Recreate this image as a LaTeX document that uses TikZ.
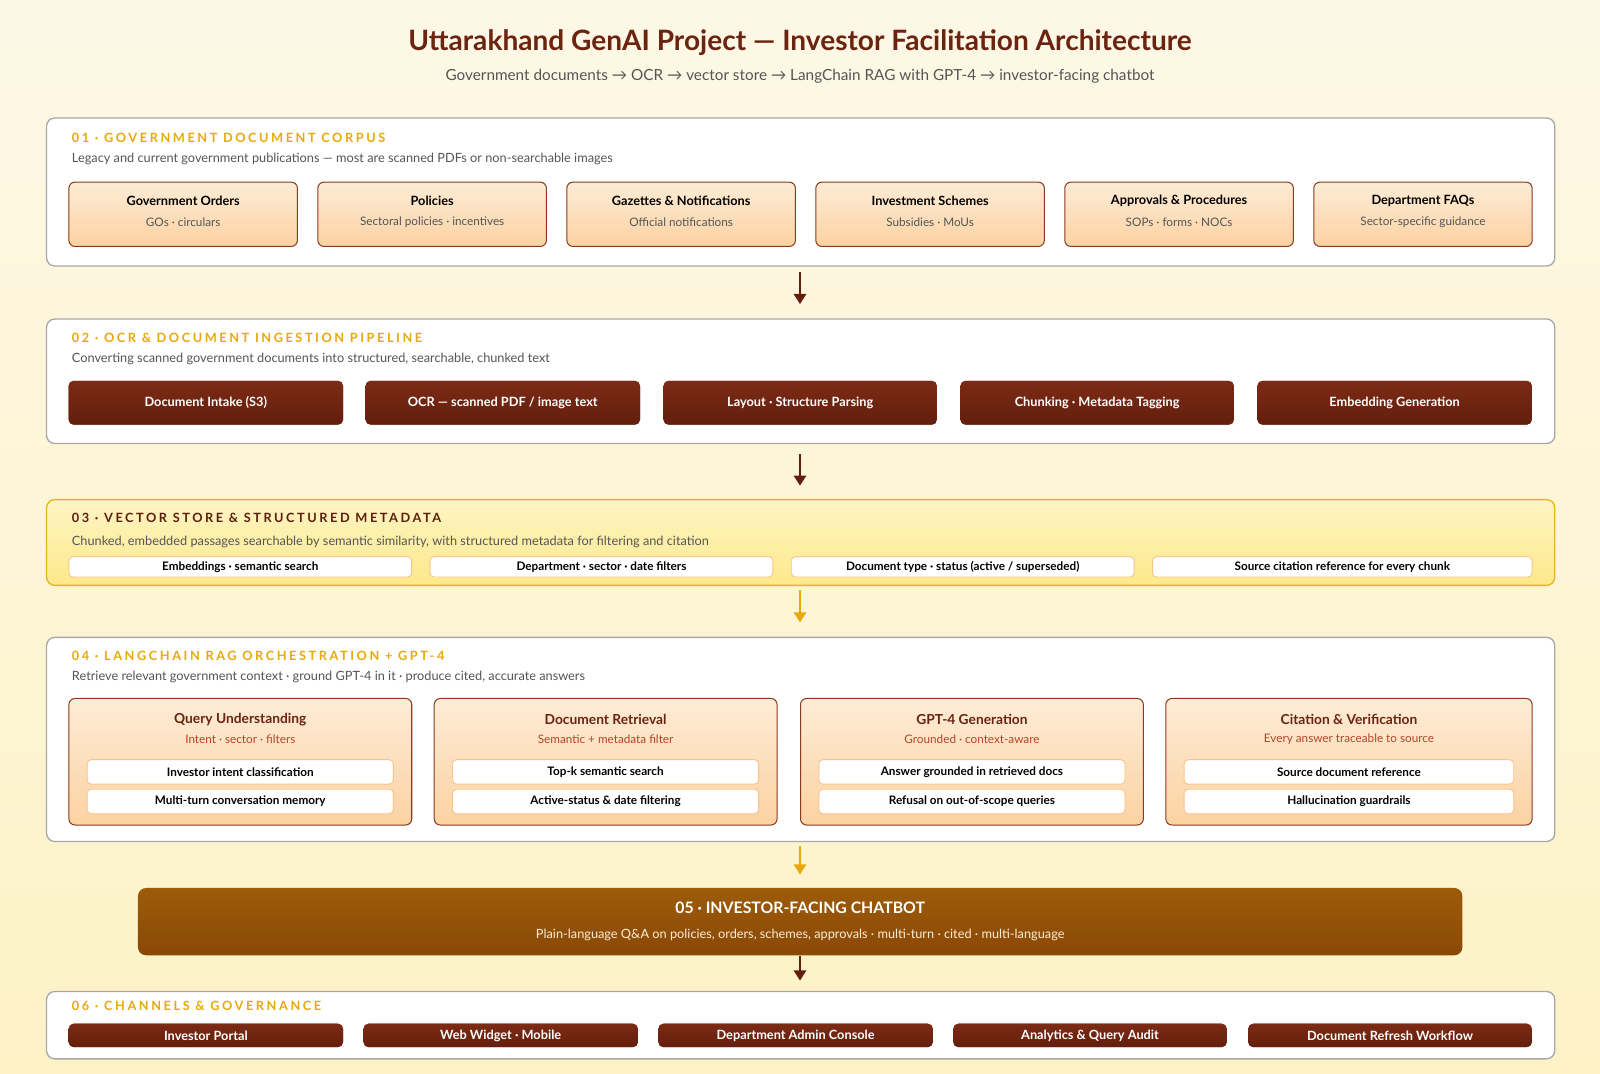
\documentclass[tikz,border=0pt]{standalone}
\usepackage{fontspec}
\setmainfont{Lato}
\usetikzlibrary{arrows.meta}
\definecolor{bgA}{HTML}{FDF8E6}
\definecolor{bgB}{HTML}{FDF2C6}
\definecolor{ttl}{HTML}{6B2410}
\definecolor{gold}{HTML}{E8A90C}
\definecolor{dkA}{HTML}{7C2B15}
\definecolor{dkB}{HTML}{631E0D}
\definecolor{pkA}{HTML}{FDECD6}
\definecolor{pkB}{HTML}{FCD2A2}
\definecolor{pkD}{HTML}{8B3A1E}
\definecolor{pnl}{HTML}{A8A8A8}
\definecolor{sub}{HTML}{555555}
\definecolor{rust}{HTML}{B5442A}
\definecolor{chA}{HTML}{9C5C0A}
\definecolor{chB}{HTML}{8A4806}
\definecolor{ylA}{HTML}{FEF4C4}
\definecolor{ylB}{HTML}{FDE98A}
\definecolor{ylD}{HTML}{E8B422}
\definecolor{pillD}{HTML}{FBC48A}
\tikzset{
 panel/.style={draw=pnl,line width=1.3pt,fill=white,rounded corners=8pt,anchor=north west,inner sep=0pt},
 hdr/.style={anchor=west,text=gold,font=\fontsize{12.5}{14}\selectfont\bfseries\addfontfeatures{LetterSpace=20}},
 subt/.style={anchor=west,text=sub,font=\fontsize{12.5}{14}\selectfont},
 peach/.style={draw=pkD,line width=1pt,top color=pkA,bottom color=pkB,rounded corners=6pt,anchor=north west,inner sep=0pt},
 dark/.style={fill=dkA,top color=dkA,bottom color=dkB,rounded corners=5pt,anchor=north west,inner sep=0pt,text=white,font=\fontsize{12.5}{14}\selectfont\bfseries},
 pill/.style={draw=#1,line width=0.9pt,fill=white,rounded corners=4pt,anchor=north west,inner sep=0pt,font=\fontsize{11.5}{13}\selectfont\bfseries},
 pill/.default=pillD,
 arr/.style={-{Triangle[length=10pt,width=12pt]},line width=2.4pt,draw=#1},
}
\newcommand\pbox[6]{\node[peach,minimum width=#3pt,minimum height=63pt] (#1) at (#2,178) {};
 \node[font=\fontsize{12.5}{14}\selectfont\bfseries] at ([yshift=-19pt]#1.north) {#4};
 \node[font=\fontsize{11.5}{13}\selectfont,text=sub] at ([yshift=-40pt]#1.north) {#5};}
\newcommand\dbox[5]{\node[dark,minimum width=#3pt,minimum height=#5pt] (#1) at (#2) {#4};}
\newcommand\ppill[5]{\node[pill,minimum width=#3pt,minimum height=#5pt] (#1) at (#2) {#4};}
\newcommand\rag[6]{\node[peach,minimum width=#3pt,minimum height=124pt] (#1) at (#2,684) {};
 \node[font=\fontsize{13.5}{15}\selectfont\bfseries,text=ttl] at ([yshift=-21pt]#1.north) {#4};
 \node[font=\fontsize{11.5}{13}\selectfont,text=rust] at ([yshift=-40pt]#1.north) {#5};
 \ppill{#1a}{[xshift=18pt,yshift=-60pt]#1.north west}{\the\numexpr#3-36\relax}{#6}{24}}
\begin{document}
\begin{tikzpicture}[x=1pt,y=-1pt]
\useasboundingbox (0,0) rectangle (1568,1052.5);
\shade[top color=bgA,bottom color=bgB] (0,0) rectangle (1568,1052.5);
\node[text=ttl,font=\fontsize{27.5}{30}\selectfont\bfseries] (title) at (784,42) {Uttarakhand GenAI Project — Investor Facilitation Architecture};
\node[text=sub,font=\fontsize{15}{18}\selectfont] (stitle) at (784,75) {Government documents → OCR → vector store → LangChain RAG with GPT-4 → investor-facing chatbot};
% panel 1
\node[panel,minimum width=1478pt,minimum height=145pt] (p1) at (45,115) {};
\node[hdr] at (67,135) {01 · GOVERNMENT DOCUMENT CORPUS};
\node[subt] at (67,156) {Legacy and current government publications — most are scanned PDFs or non-searchable images};
\pbox{a1}{67}{224}{Government Orders}{GOs · circulars}{}
\pbox{a2}{311}{224}{Policies}{Sectoral policies · incentives}{}
\pbox{a3}{555}{224}{Gazettes \& Notifications}{Official notifications}{}
\pbox{a4}{799}{224}{Investment Schemes}{Subsidies · MoUs}{}
\pbox{a5}{1043}{224}{Approvals \& Procedures}{SOPs · forms · NOCs}{}
\pbox{a6}{1287}{214}{Department FAQs}{Sector-specific guidance}{}
% panel 2
\node[panel,minimum width=1478pt,minimum height=122pt] (p2) at (45,312) {};
\node[hdr] at (67,331) {02 · OCR \& DOCUMENT INGESTION PIPELINE};
\node[subt] at (67,352) {Converting scanned government documents into structured, searchable, chunked text};
\dbox{b1}{67,373}{269}{Document Intake (S3)}{43}
\dbox{b2}{358,373}{269}{OCR — scanned PDF / image text}{43}
\dbox{b3}{650,373}{268}{Layout · Structure Parsing}{43}
\dbox{b4}{941,373}{268}{Chunking · Metadata Tagging}{43}
\dbox{b5}{1232,373}{269}{Embedding Generation}{43}
% panel 3
\node[panel,draw=ylD,top color=ylA,bottom color=ylB,minimum width=1478pt,minimum height=84pt] (p3) at (45,489) {};
\node[hdr,text=ttl!85!black] at (67,508) {03 · VECTOR STORE \& STRUCTURED METADATA};
\node[subt] at (67,531) {Chunked, embedded passages searchable by semantic similarity, with structured metadata for filtering and citation};
\ppill{c1}{67,545}{336}{Embeddings · semantic search}{20}
\ppill{c2}{421,545}{336}{Department · sector · date filters}{20}
\ppill{c3}{775,545}{336}{Document type · status (active / superseded)}{20}
\ppill{c4}{1129,545}{372}{Source citation reference for every chunk}{20}
% panel 4
\node[panel,minimum width=1478pt,minimum height=200pt] (p4) at (45,624) {};
\node[hdr] at (67,643) {04 · LANGCHAIN RAG ORCHESTRATION + GPT-4};
\node[subt] at (67,663) {Retrieve relevant government context · ground GPT-4 in it · produce cited, accurate answers};
\rag{d1}{67}{336}{Query Understanding}{Intent · sector · filters}{Investor intent classification}
\ppill{d1b}{[xshift=18pt,yshift=-89pt]d1.north west}{300}{Multi-turn conversation memory}{24}
\rag{d2}{425}{336}{Document Retrieval}{Semantic + metadata filter}{Top-k semantic search}
\ppill{d2b}{[xshift=18pt,yshift=-89pt]d2.north west}{300}{Active-status \& date filtering}{24}
\rag{d3}{784}{336}{GPT-4 Generation}{Grounded · context-aware}{Answer grounded in retrieved docs}
\ppill{d3b}{[xshift=18pt,yshift=-89pt]d3.north west}{300}{Refusal on out-of-scope queries}{24}
\rag{d4}{1142}{359}{Citation \& Verification}{Every answer traceable to source}{Source document reference}
\ppill{d4b}{[xshift=18pt,yshift=-89pt]d4.north west}{323}{Hallucination guardrails}{24}
% chatbot
\node[anchor=north west,inner sep=0pt,rounded corners=8pt,top color=chA,bottom color=chB,minimum width=1298pt,minimum height=66pt] (p5) at (135,870) {};
\node[text=white,font=\fontsize{15.5}{18}\selectfont\bfseries] at ([yshift=-20pt]p5.north) {05 · INVESTOR-FACING CHATBOT};
\node[text=pkA,font=\fontsize{12.5}{14}\selectfont] at ([yshift=-46pt]p5.north) {Plain-language Q\&A on policies, orders, schemes, approvals · multi-turn · cited · multi-language};
% panel 6
\node[panel,minimum width=1478pt,minimum height=66pt] (p6) at (45,971) {};
\node[hdr] at (67,986) {06 · CHANNELS \& GOVERNANCE};
\dbox{e1}{67,1003}{269}{Investor Portal}{23}
\dbox{e2}{356,1003}{269}{Web Widget · Mobile}{23}
\dbox{e3}{645,1003}{269}{Department Admin Console}{23}
\dbox{e4}{934,1003}{268}{Analytics \& Query Audit}{23}
\dbox{e5}{1223,1003}{278}{Document Refresh Workflow}{23}
% arrows
\draw[arr=dkB] ([yshift=-5pt]p1.south -| 784,0) -- ([yshift=14pt]p2.north -| 784,0);
\draw[arr=dkB] ([yshift=-10pt]p2.south -| 784,0) -- ([yshift=13pt]p3.north -| 784,0);
\draw[arr=gold] ([yshift=-4pt]p3.south -| 784,0) -- ([yshift=14pt]p4.north -| 784,0);
\draw[arr=gold] ([yshift=-4pt]p4.south -| 784,0) -- ([yshift=13pt]p5.north -| 784,0);
\draw[arr=dkB] (p5.south -| 784,0) -- ([yshift=10pt]p6.north -| 784,0);
\end{tikzpicture}
\end{document}
